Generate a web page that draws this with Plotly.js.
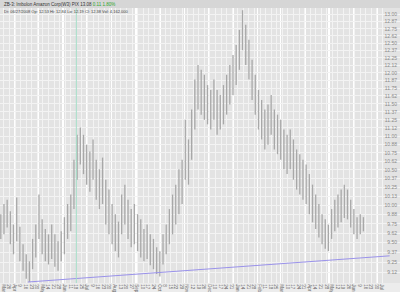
<!DOCTYPE html>
<html>
<head>
<meta charset="utf-8">
<script src="https://cdn.plot.ly/plotly-3.0.1.min.js"></script>
<style>html,body{margin:0;padding:0;background:#ececec;}#chart{width:400px;height:292px;}</style>
</head>
<body>
<div id="chart"></div>
<script>
// Bar dates (one price bar every 4 days)
const barDates = ['2007-03-15','2007-03-19','2007-03-23','2007-03-27','2007-03-31','2007-04-04','2007-04-08','2007-04-12','2007-04-16','2007-04-20','2007-04-24','2007-04-28','2007-05-02','2007-05-06','2007-05-10','2007-05-14','2007-05-18','2007-05-22','2007-05-26','2007-05-30','2007-06-03','2007-06-07','2007-06-11','2007-06-15','2007-06-19','2007-06-23','2007-06-27','2007-07-01','2007-07-05','2007-07-09','2007-07-13','2007-07-17','2007-07-21','2007-07-25','2007-07-29','2007-08-02','2007-08-06','2007-08-10','2007-08-14','2007-08-18','2007-08-22','2007-08-26','2007-08-30','2007-09-03','2007-09-07','2007-09-11','2007-09-15','2007-09-19','2007-09-23','2007-09-27','2007-10-01','2007-10-05','2007-10-09','2007-10-13','2007-10-17','2007-10-21','2007-10-25','2007-10-29','2007-11-02','2007-11-06','2007-11-10','2007-11-14','2007-11-18','2007-11-22','2007-11-26','2007-11-30','2007-12-04','2007-12-08','2007-12-12','2007-12-16','2007-12-20','2007-12-24','2007-12-28','2008-01-01','2008-01-05','2008-01-09','2008-01-13','2008-01-17','2008-01-21','2008-01-25','2008-01-29','2008-02-02','2008-02-06','2008-02-10','2008-02-14','2008-02-18','2008-02-22','2008-02-26','2008-03-01','2008-03-05','2008-03-09','2008-03-13','2008-03-17','2008-03-21','2008-03-25','2008-03-29','2008-04-02','2008-04-06','2008-04-10','2008-04-14','2008-04-18','2008-04-22','2008-04-26','2008-04-30','2008-05-04','2008-05-08','2008-05-12','2008-05-16','2008-05-20','2008-05-24','2008-05-28','2008-06-01','2008-06-05','2008-06-09','2008-06-13'];

const barHigh = [9.88,10.02,10.08,9.92,9.74,10.11,9.71,9.48,9.35,9.26,9.55,9.74,10.15,9.81,9.68,9.61,9.74,9.61,9.52,9.65,9.84,10.02,10.15,10.65,11.02,11.13,11.02,10.87,10.77,10.95,10.65,10.51,10.68,10.36,10.22,10.02,9.88,9.78,10.15,10.29,10.08,9.95,10.02,9.88,9.81,9.68,9.74,9.61,9.55,9.44,9.39,9.61,9.74,9.95,10.15,10.29,10.51,10.65,11.25,10.95,11.41,11.89,12.13,12.05,11.97,11.80,11.72,11.89,11.72,11.64,11.80,11.97,12.13,12.30,12.47,12.73,13.08,12.82,12.56,12.22,11.97,11.72,11.56,11.41,11.49,11.64,11.41,11.33,11.25,11.10,11.02,11.10,10.95,10.80,10.73,10.65,10.58,10.44,10.29,10.15,10.02,9.88,9.81,9.74,9.95,10.08,10.15,10.22,10.29,10.22,10.08,9.95,9.84,9.88,9.84];

const barLow = [9.55,9.61,9.70,9.48,9.35,9.52,9.26,9.14,9.04,9.00,9.16,9.31,9.55,9.35,9.26,9.22,9.29,9.19,9.14,9.26,9.35,9.55,9.65,9.95,10.36,10.58,10.44,10.29,10.19,10.36,10.08,9.95,10.02,9.74,9.61,9.48,9.39,9.31,9.61,9.74,9.55,9.44,9.48,9.39,9.31,9.26,9.29,9.21,9.16,9.10,9.07,9.22,9.35,9.48,9.61,9.74,9.88,10.02,10.36,10.29,10.65,11.10,11.41,11.33,11.25,11.18,11.10,11.25,11.02,11.10,11.18,11.33,11.49,11.64,11.80,12.05,12.38,12.13,11.89,11.56,11.33,11.10,10.95,10.80,10.87,11.02,10.80,10.73,10.65,10.51,10.44,10.51,10.36,10.22,10.15,10.08,10.02,9.88,9.77,9.68,9.57,9.48,9.42,9.39,9.55,9.65,9.70,9.77,9.83,9.81,9.70,9.61,9.55,9.61,9.65];

// Rising support trendline
const trendDates = ['2007-04-18','2008-07-16'];
const trendValues = [9.00, 9.33];

// Vertical marker date
const markerDate = '2007-06-18';

// Price axis ticks
const priceTicks = [9.000,9.125,9.250,9.375,9.500,9.625,9.750,9.875,10.000,10.125,10.250,10.375,10.500,10.625,10.750,10.875,11.000,11.125,11.250,11.375,11.500,11.625,11.750,11.875,12.000,12.125,12.250,12.375,12.500,12.625,12.750,12.875,13.000];

// Weekly date ticks and labels
const weekTicks = ['2007-03-19','2007-03-26','2007-04-02','2007-04-09','2007-04-16','2007-04-23','2007-04-30','2007-05-07','2007-05-14','2007-05-21','2007-05-28','2007-06-04','2007-06-11','2007-06-18','2007-06-25','2007-07-02','2007-07-09','2007-07-16','2007-07-23','2007-07-30','2007-08-06','2007-08-13','2007-08-20','2007-08-27','2007-09-03','2007-09-10','2007-09-17','2007-09-24','2007-10-01','2007-10-08','2007-10-15','2007-10-22','2007-10-29','2007-11-05','2007-11-12','2007-11-19','2007-11-26','2007-12-03','2007-12-10','2007-12-17','2007-12-24','2007-12-31','2008-01-07','2008-01-14','2008-01-21','2008-01-28','2008-02-04','2008-02-11','2008-02-18','2008-02-25','2008-03-03','2008-03-10','2008-03-17','2008-03-24','2008-03-31','2008-04-07','2008-04-14','2008-04-21','2008-04-28','2008-05-05','2008-05-12','2008-05-19','2008-05-26','2008-06-02','2008-06-09','2008-06-16','2008-06-23','2008-06-30','2008-07-07','2008-07-14','2008-07-21','2008-07-28'];
const weekLabels = ['Mar','26','Apr','9','16','23','30','May','14','21','28','Jun','11','18','25','Jul','9','16','23','30','Aug','13','20','27','Sep','10','17','24','Oct','8','15','22','29','Nov','12','19','26','Dec','10','17','24','31','Jan','14','21','28','Feb','11','18','25','Mar','10','17','24','31','Apr','14','21','28','May','12','19','26','Jun','9','16','23','30','Jul','14','21','28'];

const titleText = 'ZB-3: Imbolon Amazon Corp(W3) PIX 13.08 <span style="color:#2fa52f">0.11 1.80%</span>';
const infoText = 'Dt: 06/27/2008 Op: 12.53 Hi: 12.84 Lo: 12.19 Cl: 12.38 Vol: 4,162,000';

const bx = [], by = [];
for (let i = 0; i < barDates.length; i++) {
  bx.push(barDates[i], barDates[i], null);
  by.push(barLow[i], barHigh[i], null);
}

const traces = [
  {type:'scatter', mode:'lines', x:bx, y:by, line:{color:'#a8a8a8', width:1.3}, hoverinfo:'skip', connectgaps:false},
  {type:'scatter', mode:'lines', x:trendDates, y:trendValues, line:{color:'#9a92ea', width:1}, hoverinfo:'skip'}
];

const layout = {
  width:400, height:292,
  margin:{l:0, r:0, t:8, b:9},
  paper_bgcolor:'#ececec',
  plot_bgcolor:'#e3e3e3',
  showlegend:false,
  font:{family:'Arial, Liberation Sans, sans-serif'},
  xaxis:{
    type:'date', range:['2007-03-14','2008-07-29'],
    tickmode:'array', tickvals:weekTicks, ticktext:weekLabels,
    tickfont:{size:4.5, color:'#666'},
    ticklabelstandoff:-2,
    showgrid:true, gridcolor:'#f3f3f3', gridwidth:1,
    minor:{dtick:'M1', tick0:'2007-04-01', showgrid:true, gridcolor:'#ffffff', gridwidth:1.5},
    ticks:'', zeroline:false, showline:false, fixedrange:true
  },
  yaxis:{
    type:'log', range:[0.95366, 1.11793], side:'right',
    tickmode:'array', tickvals:priceTicks, tickformat:'.2f',
    ticklabelposition:'inside',
    tickfont:{size:5, color:'#8a8a8a'},
    showgrid:true, gridcolor:'#f3f3f3', gridwidth:1,
    ticks:'', zeroline:false, showline:false, fixedrange:true
  },
  shapes:[
    {type:'rect', xref:'paper', yref:'paper', x0:0, x1:1, y0:1, y1:1.04, fillcolor:'#d6d6d6', line:{width:0}, layer:'below'},
    {type:'line', xref:'x', yref:'paper', x0:markerDate, x1:markerDate, y0:0, y1:1, line:{color:'#a3dcc6', width:1}}
  ],
  annotations:[
    {xref:'paper', yref:'paper', x:0.005, y:1.0145, xanchor:'left', yanchor:'middle', text:titleText, showarrow:false, font:{size:4.5, color:'#333'}},
    {xref:'paper', yref:'paper', x:0.005, y:0.988, xanchor:'left', yanchor:'middle', text:infoText, showarrow:false, font:{size:4, color:'#444'}}
  ]
};

Plotly.newPlot('chart', traces, layout, {displayModeBar:false, staticPlot:true});
</script>
</body>
</html>
